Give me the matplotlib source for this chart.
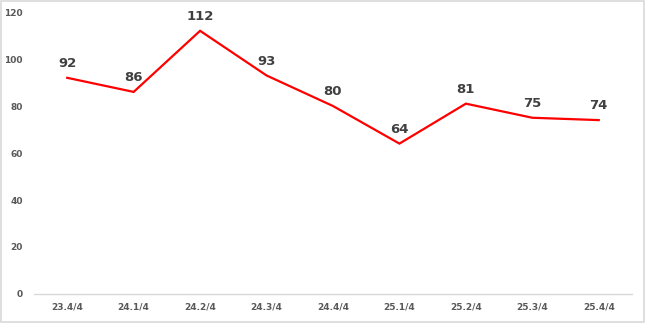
import matplotlib
matplotlib.use("Agg")
import matplotlib.pyplot as plt
from matplotlib.patches import Rectangle

quarters = ['23.4/4', '24.1/4', '24.2/4', '24.3/4', '24.4/4',
            '25.1/4', '25.2/4', '25.3/4', '25.4/4']
values = [92, 86, 112, 93, 80, 64, 81, 75, 74]
yticks = [0, 20, 40, 60, 80, 100, 120]

fig = plt.figure(figsize=(6.45, 3.23), dpi=100)
ax = fig.add_axes([0.0527, 0.0898, 0.9271, 0.873])

x = list(range(len(quarters)))
ax.plot(x, values, color='#ff0000', linewidth=1.6, solid_joinstyle='miter')

for xi, v in zip(x, values):
    ax.annotate(str(v), (xi, v), xytext=(0, 5.5), textcoords='offset points',
                ha='center', va='bottom', fontsize=9.5, fontweight='bold',
                color='#404040')

ax.set_xlim(-0.5, len(quarters) - 0.5)
ax.set_ylim(0, 120)
ax.set_xticks(x)
ax.set_xticklabels(quarters)
ax.set_yticks(yticks)
ax.tick_params(axis='both', length=0, labelsize=6.5, colors='#595959', pad=6)
for lbl in ax.get_xticklabels() + ax.get_yticklabels():
    lbl.set_fontweight('bold')
ax.tick_params(axis='y', pad=8)

for side in ['top', 'right', 'left']:
    ax.spines[side].set_visible(False)
ax.spines['bottom'].set_color('#d9d9d9')
ax.spines['bottom'].set_linewidth(1.0)

fig.patches.append(Rectangle((0.001, 0.002), 0.997, 0.995, transform=fig.transFigure,
                             fill=False, edgecolor='#d9d9d9', linewidth=1.2))

fig.savefig('out.png', dpi=100)
